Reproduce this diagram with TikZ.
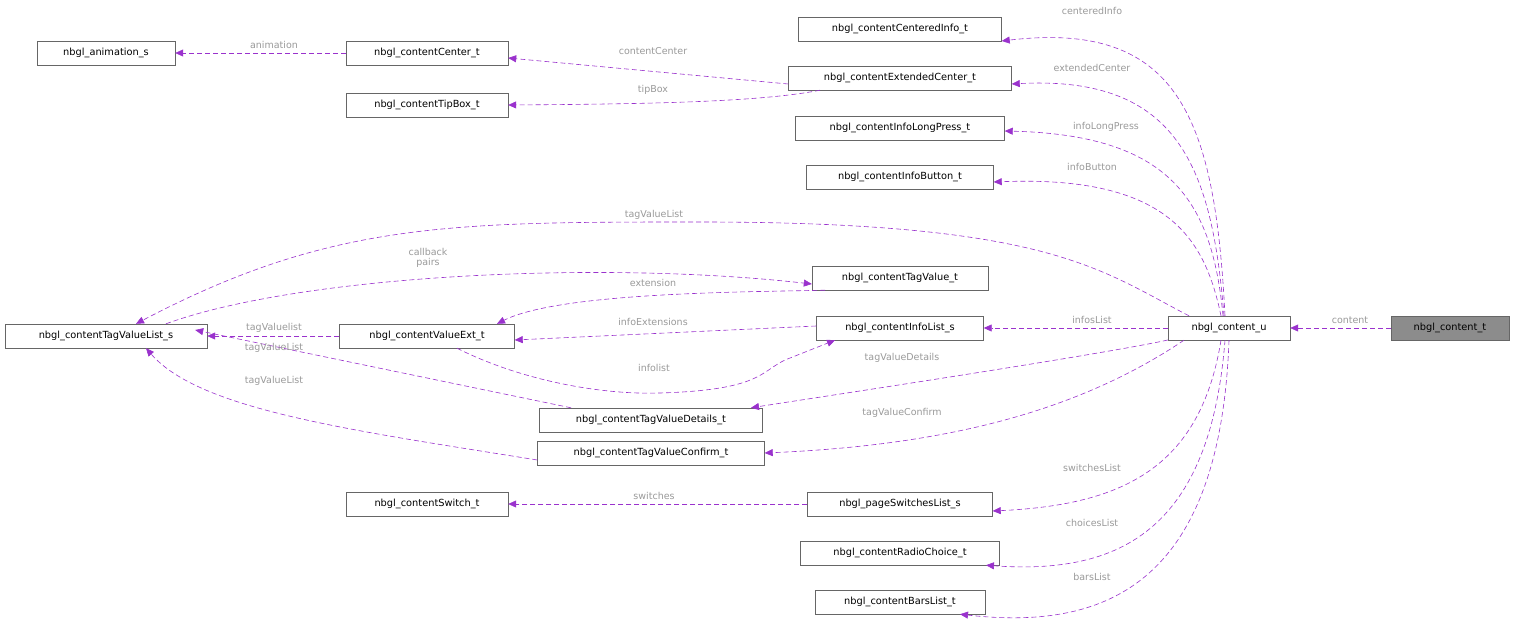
\documentclass[tikz,border=0pt]{standalone}
\usepackage{fontspec}
\setmainfont{DejaVu Sans}
\usetikzlibrary{arrows.meta}
\definecolor{ed}{HTML}{9A32CD}
\definecolor{lb}{HTML}{9A9A9A}
\begin{document}
\begin{tikzpicture}[x=1pt,y=-1pt,
 box/.style={draw=black!60,fill=white,minimum height=24pt,inner sep=2pt,font=\fontsize{9.8}{11}\selectfont},
 e/.style={draw=ed,line width=0.6pt,dashed,dash pattern=on 5pt off 3pt,-{Triangle[length=8pt,width=7pt,fill=ed]}},
 lab/.style={text=lb,font=\fontsize{9.5}{10.5}\selectfont,align=center,inner sep=0pt}]
\useasboundingbox[fill=white] (0,0) rectangle (1516,626);
\node[box,fill=black!45,minimum width=118pt] (ct) at (1450,328) {nbgl\_content\_t};
\node[box,minimum width=122pt] (cu) at (1229,328) {nbgl\_content\_u};
\node[box,minimum width=203pt] (ci) at (900,29) {nbgl\_contentCenteredInfo\_t};
\node[box,minimum width=223pt] (ec) at (900,78) {nbgl\_contentExtendedCenter\_t};
\node[box,minimum width=209pt] (lp) at (900,128) {nbgl\_contentInfoLongPress\_t};
\node[box,minimum width=187pt] (ib) at (900,177) {nbgl\_contentInfoButton\_t};
\node[box,minimum width=176pt] (tv) at (900,278) {nbgl\_contentTagValue\_t};
\node[box,minimum width=167pt] (il) at (900,328) {nbgl\_contentInfoList\_s};
\node[box,minimum width=223pt] (td) at (651,420) {nbgl\_contentTagValueDetails\_t};
\node[box,minimum width=227pt] (tc) at (651,453) {nbgl\_contentTagValueConfirm\_t};
\node[box,minimum width=185pt] (ps) at (900,504) {nbgl\_pageSwitchesList\_s};
\node[box,minimum width=199pt] (rc) at (900,553) {nbgl\_contentRadioChoice\_t};
\node[box,minimum width=170pt] (bl) at (900,602) {nbgl\_contentBarsList\_t};
\node[box,minimum width=162pt] (sw) at (427,504) {nbgl\_contentSwitch\_t};
\node[box,minimum width=175pt] (ve) at (427,336) {nbgl\_contentValueExt\_t};
\node[box,minimum width=202pt] (tl) at (106,336) {nbgl\_contentTagValueList\_s};
\node[box,minimum width=162pt] (tb) at (427,105) {nbgl\_contentTipBox\_t};
\node[box,minimum width=162pt] (cc) at (427,53) {nbgl\_contentCenter\_t};
\node[box,minimum width=138pt] (an) at (106,53) {nbgl\_animation\_s};
% edges
\draw[e] (ct.west) -- (cu.east);
\draw[e] ([xshift=-4pt]cu.north) .. controls (1215,120) and (1180,20) .. ([yshift=-12pt]ci.east);
\draw[e] ([xshift=-5pt]cu.north) .. controls (1212,170) and (1180,75) .. ([yshift=-6pt]ec.east);
\draw[e] ([xshift=-6pt]cu.north) .. controls (1212,200) and (1170,135) .. ([yshift=-3pt]lp.east);
\draw[e] ([xshift=-8pt]cu.north) .. controls (1205,240) and (1170,175) .. ([yshift=-5pt]ib.east);
\draw[e] ([xshift=-40pt]cu.north) .. controls (1100,270) and (1050,222) .. (700,222) .. controls (450,222) and (330,222) .. ([xshift=30pt]tl.north);
\draw[e] ([xshift=60pt]tl.north) .. controls (300,275) and (600,260) .. ([yshift=-6pt]tv.west);
\draw[e] ([xshift=-75pt]tv.south) .. controls (750,292) and (560,292) .. ([xshift=70pt]ve.north);
\draw[e] ([yshift=2pt]il.west) -- ([yshift=-4pt]ve.east);
\draw[e] (cu.west) -- (il.east);
\draw[e] (ve.west) -- (tl.east);
\draw[e] ([xshift=30pt]ve.south) .. controls (520,380) and (600,395) .. (660,393) .. controls (760,390) and (760,372) .. (785,360) -- ([xshift=-65pt]il.south);
\draw[e] ([xshift=-80pt]td.north) -- ([xshift=-12pt,yshift=6pt]tl.east);
\draw[e] ([yshift=-7pt]tc.west) .. controls (350,430) and (200,410) .. ([xshift=40pt]tl.south);
\draw[e] ([yshift=-12pt]cu.west) .. controls (1100,355) and (800,400) .. ([xshift=100pt]td.north);
\draw[e] ([xshift=-45pt]cu.south) .. controls (1080,410) and (950,445) .. (tc.east);
\draw[e] ([xshift=-8pt]cu.south) .. controls (1200,470) and (1120,505) .. ([yshift=-7pt]ps.east);
\draw[e] ([xshift=-4pt]cu.south) .. controls (1210,530) and (1120,575) .. ([xshift=86pt]rc.south);
\draw[e] (cu.south) .. controls (1220,590) and (1100,630) .. ([xshift=60pt]bl.south);
\draw[e] (ps.west) -- (sw.east);
\draw[e] (cc.west) -- (an.east);
\draw[e] ([yshift=-6pt]ec.west) -- ([yshift=-5pt]cc.east);
\draw[e] ([xshift=-80pt]ec.south) .. controls (760,102) and (650,104) .. (tb.east);
% labels
\node[lab] at (1350,320) {content};
\node[lab] at (1092,11) {centeredInfo};
\node[lab] at (1092,68) {extendedCenter};
\node[lab] at (1106,127) {infoLongPress};
\node[lab] at (1092,167) {infoButton};
\node[lab] at (654,215) {tagValueList};
\node[lab] at (428,258) {callback\\pairs};
\node[lab] at (653,283) {extension};
\node[lab] at (653,322) {infoExtensions};
\node[lab] at (1092,320) {infosList};
\node[lab] at (274,328) {tagValuelist};
\node[lab] at (274,348) {tagValueList};
\node[lab] at (654,368) {infolist};
\node[lab] at (902,358) {tagValueDetails};
\node[lab] at (274,381) {tagValueList};
\node[lab] at (902,413) {tagValueConfirm};
\node[lab] at (1092,468) {switchesList};
\node[lab] at (654,496) {switches};
\node[lab] at (1092,523) {choicesList};
\node[lab] at (1092,577) {barsList};
\node[lab] at (274,45) {animation};
\node[lab] at (653,51) {contentCenter};
\node[lab] at (653,90) {tipBox};
\end{tikzpicture}
\end{document}
